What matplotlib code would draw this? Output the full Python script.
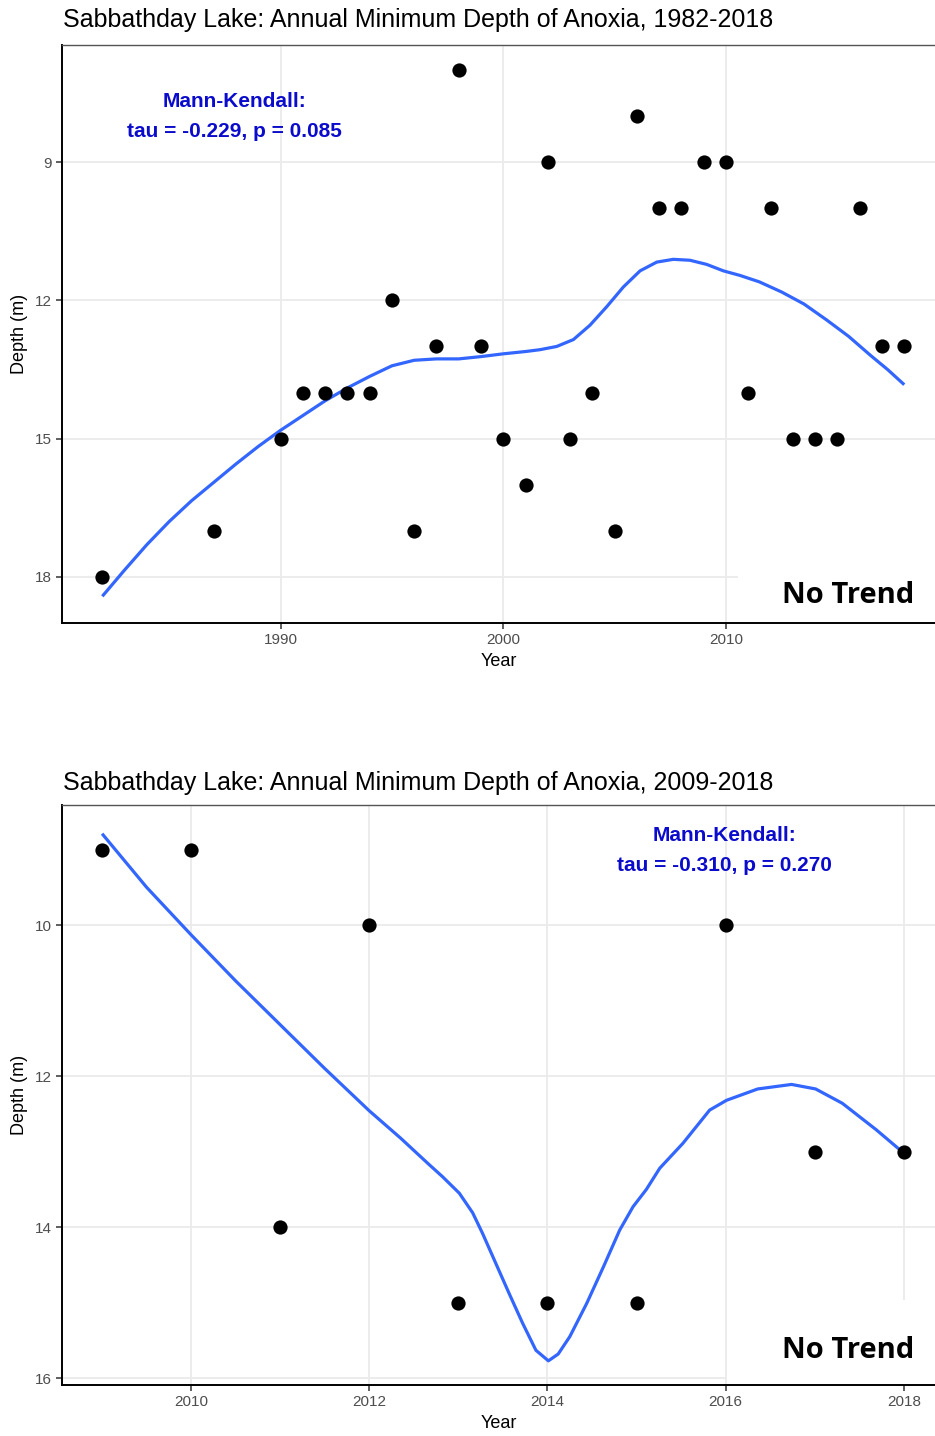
"""Sabbathday Lake: annual minimum depth of anoxia, two periods, with loess fits."""
import matplotlib
matplotlib.use("Agg")
import matplotlib.pyplot as plt
from matplotlib.patches import Rectangle

# ---- data ----
years_full = [1982, 1987, 1990, 1991, 1992, 1993, 1994, 1995, 1996, 1997, 1998,
              1999, 2000, 2001, 2002, 2003, 2004, 2005, 2006, 2007, 2008, 2009,
              2010, 2011, 2012, 2013, 2014, 2015, 2016, 2017, 2018]
depth_full = [18, 17, 15, 14, 14, 14, 14, 12, 17, 13, 7,
              13, 15, 16, 9, 15, 14, 17, 8, 10, 10, 9,
              9, 14, 10, 15, 15, 15, 10, 13, 13]

# loess curve
fit_years_full = [1982, 1983, 1984, 1985, 1986, 1987, 1988, 1989, 1990, 1991,
                  1992, 1993, 1994, 1995, 1996, 1997, 1998, 1999, 2000, 2001,
                  2001.65, 2002.4, 2003.15, 2003.89, 2004.64, 2005.39, 2006.14,
                  2006.89, 2007.63, 2008.38, 2009.13, 2009.88, 2010.63, 2011.5,
                  2012.5, 2013.5, 2014.5, 2015.5, 2016.5, 2017.25, 2018]
fit_depth_full = [18.42, 17.85, 17.3, 16.8, 16.35, 15.95, 15.55, 15.17, 14.82, 14.5,
                  14.18, 13.9, 13.65, 13.42, 13.3, 13.27, 13.27, 13.22, 13.16, 13.11,
                  13.07, 13.0, 12.85, 12.54, 12.14, 11.71, 11.36,
                  11.17, 11.11, 11.13, 11.22, 11.36, 11.46, 11.6,
                  11.82, 12.08, 12.42, 12.78, 13.2, 13.5, 13.83]

years_recent = [2009, 2010, 2011, 2012, 2013, 2014, 2015, 2016, 2017, 2018]
depth_recent = [9, 9, 14, 10, 15, 15, 15, 10, 13, 13]

fit_years_recent = [2009.0, 2009.5, 2010.0, 2010.5, 2011.0, 2011.5, 2012.0, 2012.35,
                    2012.67, 2012.82, 2013.01, 2013.16, 2013.27, 2013.42, 2013.57,
                    2013.72, 2013.87, 2014.01, 2014.12, 2014.25, 2014.44, 2014.63,
                    2014.81, 2014.96, 2015.11, 2015.26, 2015.52, 2015.82, 2016.01,
                    2016.36, 2016.74, 2017.01, 2017.31, 2017.69, 2018.0]
fit_depth_recent = [8.79, 9.5, 10.13, 10.74, 11.32, 11.9, 12.46, 12.82,
                    13.17, 13.33, 13.55, 13.81, 14.08, 14.48, 14.88,
                    15.27, 15.63, 15.77, 15.68, 15.45, 15.01, 14.52,
                    14.04, 13.73, 13.5, 13.22, 12.89, 12.45, 12.32,
                    12.17, 12.11, 12.17, 12.36, 12.71, 13.02]

W, H = 935, 1436
BLUE_FIT = "#3366FF"
MK_BLUE = "#0B0BCC"
GRID = "#EBEBEB"
TICK = "#4D4D4D"


def px_box(left, top, right, bottom):
    """pixel box -> figure fraction [l, b, w, h]"""
    return [left / W, 1 - bottom / H, (right - left) / W, (bottom - top) / H]


def panel(fig, rect, title, title_y, xs, ys, fx, fy, xlim, ylim, xticks, yticks,
          mk_text, mk_xy, box):
    ax = fig.add_axes(rect)
    ax.set_axisbelow(True)
    ax.grid(True, color=GRID, lw=1.3)
    ax.plot(fx, fy, color=BLUE_FIT, lw=2.3, zorder=3, solid_capstyle="butt",
            solid_joinstyle="round")
    ax.scatter(xs, ys, s=105, color="black", zorder=4, linewidths=0)
    ax.set_xlim(*xlim)
    ax.set_ylim(*ylim)  # reversed: depth grows downward
    ax.set_xticks(xticks)
    ax.set_yticks(yticks)
    ax.tick_params(colors="#333333", labelcolor=TICK, labelsize=11, length=4, width=1.1)
    for side in ("left", "bottom"):
        ax.spines[side].set_color("black")
        ax.spines[side].set_linewidth(1.4)
    ax.spines["top"].set_color("#555555")
    ax.spines["top"].set_linewidth(1.0)
    ax.spines["right"].set_visible(False)
    ax.set_xlabel("Year", fontsize=13, labelpad=4)
    ax.set_ylabel("Depth (m)", fontsize=13, labelpad=5)

    # white patch behind the pasted "No Trend" label (hides grid there)
    ax.add_patch(Rectangle((box[0], 0), 1 - box[0], box[1], transform=ax.transAxes,
                           facecolor="white", edgecolor="none", zorder=1.5))
    ax.text(0.976, box[1] * 0.40, "No Trend", transform=ax.transAxes, ha="right",
            va="center", fontsize=21, fontweight="bold", family="Open Sans", zorder=5)

    ax.text(mk_xy[0], mk_xy[1], mk_text, transform=ax.transAxes, ha="center", va="center",
            color=MK_BLUE, fontsize=15, fontweight="bold", linespacing=1.75)

    fig.text(63 / W, 1 - title_y / H, title, ha="left", va="center", fontsize=18)
    return ax


plt.rcParams["font.family"] = ["Liberation Sans", "DejaVu Sans"]
fig = plt.figure(figsize=(W / 100, H / 100), dpi=100)

panel(fig, px_box(62, 45, 935, 623),
      "Sabbathday Lake: Annual Minimum Depth of Anoxia, 1982-2018", 20,
      years_full, depth_full, fit_years_full, fit_depth_full,
      (1980.19, 2019.38), (19.0, 6.46), [1990, 2000, 2010], [9, 12, 15, 18],
      "Mann-Kendall:\ntau = -0.229, p = 0.085", (0.198, 0.876), (0.774, 0.118))

panel(fig, px_box(62, 805, 935, 1385),
      "Sabbathday Lake: Annual Minimum Depth of Anoxia, 2009-2018", 783,
      years_recent, depth_recent, fit_years_recent, fit_depth_recent,
      (2008.55, 2018.35), (16.09, 8.41), [2010, 2012, 2014, 2016, 2018], [10, 12, 14, 16],
      "Mann-Kendall:\ntau = -0.310, p = 0.270", (0.759, 0.9216), (0.762, 0.147))

fig.savefig("out.png", dpi=100)
